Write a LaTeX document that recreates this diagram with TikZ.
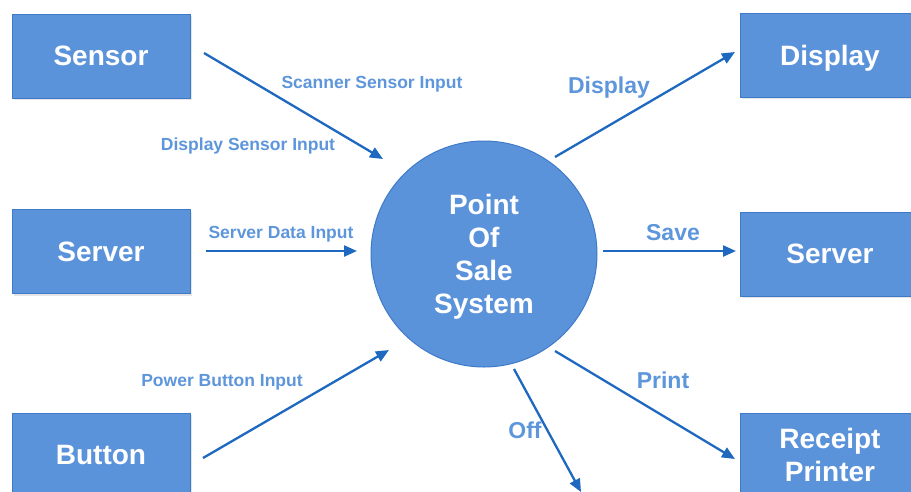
\documentclass[tikz,border=0pt]{standalone}
\usepackage{fontspec}
\setmainfont{Liberation Sans}
\usetikzlibrary{arrows.meta,shadows}
\definecolor{boxfill}{HTML}{5B93DB}
\definecolor{boxedge}{HTML}{3F7AC9}
\definecolor{arrowcol}{HTML}{1E68C0}
\definecolor{labcol}{HTML}{5E96DC}
\begin{document}
\begin{tikzpicture}[x=1pt,y=-1pt,
  entity/.style={draw=boxedge, line width=1pt, fill=boxfill, minimum width=178pt, minimum height=84pt,
    inner sep=0pt, text=white, font=\bfseries\fontsize{28}{33}\selectfont, align=center,
    drop shadow={opacity=0.2, shadow xshift=1.5pt, shadow yshift=-2pt}},
  proc/.style={circle, draw=boxedge, line width=1pt, fill=boxfill, minimum size=226pt, inner sep=0pt},
  proctext/.style={text=white, font=\bfseries\fontsize{28}{33}\selectfont, align=center, inner sep=0pt},
  flow/.style={draw=arrowcol, line width=2.3pt, -{Triangle[length=13pt,width=11pt]}},
  smalllab/.style={text=labcol, font=\bfseries\fontsize{17.5}{20}\selectfont, inner sep=0pt, text depth=0pt},
  biglab/.style={text=labcol, font=\bfseries\fontsize{23}{26}\selectfont, inner sep=0pt, text depth=0pt}]
\useasboundingbox (0,0) rectangle (911,491);
\clip (0,0) rectangle (911,491);
\fill[white] (0,0) rectangle (911,491);

\node[entity] (sensor) at (101,56) {Sensor};
\node[entity] (serverL) at (101,251.5) {Server};
\node[entity] (button) at (101,455) {Button};
\node[entity, minimum width=180pt, text depth=0pt] (display) at (830,55) {Display};
\node[entity, minimum width=180pt] (serverR) at (830,254) {Server};
\node[entity, minimum width=180pt] (printer) at (830,455) {Receipt\\Printer};

\node[proc] (pos) at (484,254) {};
\node[proctext] (postext) at (484,257) {Point\\Of\\Sale\\System};

% connector end points
\coordinate (a1s) at (204,53);  \coordinate (a1e) at (383,159);
\coordinate (a2s) at (206,251); \coordinate (a2e) at (357,251);
\coordinate (a3s) at (203,458); \coordinate (a3e) at (389,350);
\coordinate (b1s) at (555,157); \coordinate (b1e) at (735,52);
\coordinate (b2s) at (603,251); \coordinate (b2e) at (736,251);
\coordinate (b3s) at (555,351); \coordinate (b3e) at (735,459);
\coordinate (offs) at (514,369); \coordinate (offe) at (581,492);

\draw[flow] (a1s) -- (a1e);
\draw[flow] (a2s) -- (a2e);
\draw[flow] (a3s) -- (a3e);
\draw[flow] (b1s) -- (b1e);
\draw[flow] (b2s) -- (b2e);
\draw[flow] (b3s) -- (b3e);
\draw[flow] (offs) -- (offe);

\node[smalllab] (l1) at (372,82) {Scanner Sensor Input};
\node[smalllab] (l2) at (248,144) {Display Sensor Input};
\node[smalllab] (l3) at (281,232) {Server Data Input};
\node[smalllab] (l4) at (222,380) {Power Button Input};
\node[biglab] (l5) at (609,85) {Display};
\node[biglab] (l6) at (673,232) {Save};
\node[biglab] (l7) at (663,380) {Print};
\node[biglab] (l8) at (525,430) {Off};
\end{tikzpicture}
\end{document}
